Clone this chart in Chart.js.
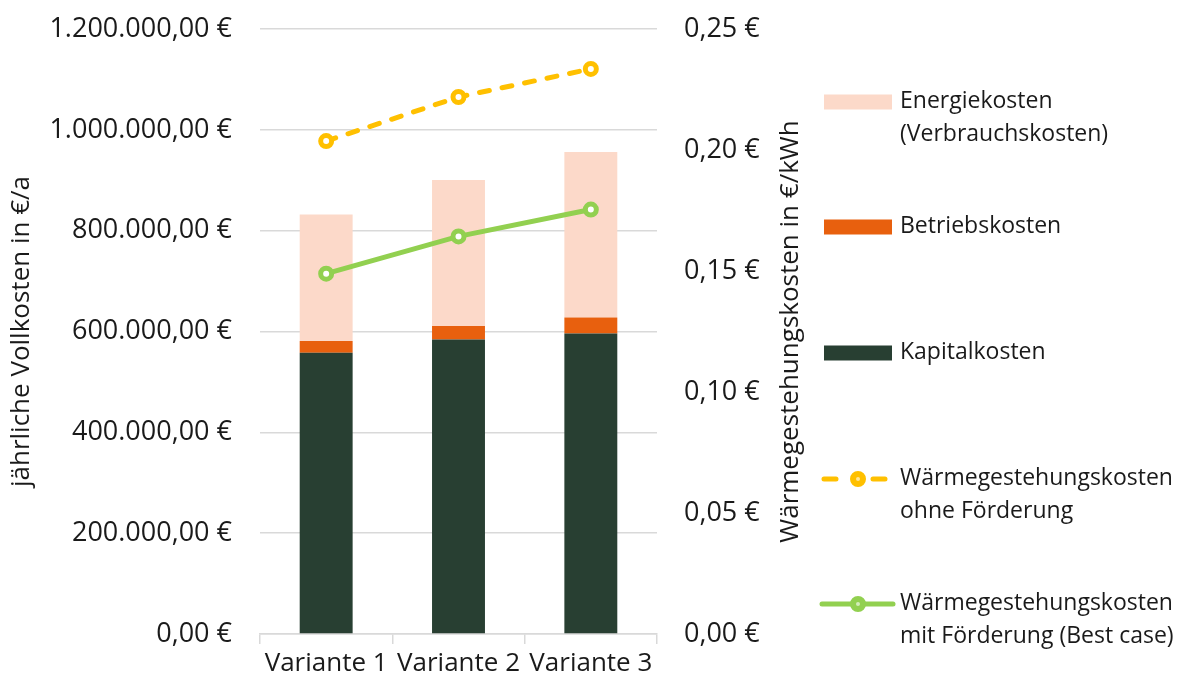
<!DOCTYPE html>
<html>
<head>
<meta charset="utf-8">
<script src="https://cdn.jsdelivr.net/npm/chart.js@4/dist/chart.umd.min.js"></script>
<style>
  html, body { margin: 0; padding: 0; background: #ffffff; }
  #wrap { position: relative; width: 1184px; height: 682px; }
</style>
</head>
<body>
<div id="wrap"><canvas id="c" width="1184" height="682"></canvas></div>
<script>
// ---- data ----
const categories = ['Variante 1', 'Variante 2', 'Variante 3'];
const kapitalkosten = [558000, 584000, 596000];
const betriebskosten = [23000, 27000, 31600];
const energiekosten = [251300, 289600, 328500];
const wgkOhneFoerderung = [0.2037, 0.2219, 0.2335];
const wgkMitFoerderung = [0.1489, 0.1643, 0.1754];
const leftTicksMax = 1200000;
const rightTicksMax = 0.25;
const leftTitle = 'jährliche Vollkosten in €/a';
const rightTitle = 'Wärmegestehungskosten in €/kWh';
const legendLabels = [
  ['Energiekosten', '(Verbrauchskosten)'],
  ['Betriebskosten'],
  ['Kapitalkosten'],
  ['Wärmegestehungskosten', 'ohne Förderung'],
  ['Wärmegestehungskosten', 'mit Förderung (Best case)']
];

// ---- style ----
const FONT = "'Open Sans', 'DejaVu Sans', sans-serif";
const TEXT = '#1a1a1a';
const GRID = '#d9d9d9';
const C_ENERGIE = '#FCD9C9';
const C_BETRIEB = '#E8600E';
const C_KAPITAL = '#283F32';
const C_OHNE = '#FFC000';
const C_MIT = '#92D050';
const TICK_SIZE = 27;

function deNumber(v, decimals) {
  const fixed = Math.abs(v).toFixed(decimals);
  let [intPart, dec] = fixed.split('.');
  intPart = intPart.replace(/\B(?=(\d{3})+(?!\d))/g, '.');
  return (v < 0 ? '-' : '') + intPart + (dec ? ',' + dec : '');
}

const titlesAndLegend = {
  id: 'titlesAndLegend',
  afterDraw(chart) {
    const ctx = chart.ctx;
    const area = chart.chartArea;
    const midY = (area.top + area.bottom) / 2;
    ctx.save();
    ctx.fillStyle = TEXT;
    ctx.font = '26px ' + FONT;
    ctx.textAlign = 'center';
    ctx.textBaseline = 'middle';
    // left title
    ctx.save();
    ctx.translate(22, midY);
    ctx.rotate(-Math.PI / 2);
    ctx.fillText(leftTitle, 0, 0);
    ctx.restore();
    // right title
    ctx.save();
    ctx.translate(791, midY);
    ctx.rotate(-Math.PI / 2);
    ctx.fillText(rightTitle, 0, 0);
    ctx.restore();

    // legend
    const ds = chart.data.datasets;
    const order = [2, 1, 0, 3, 4];
    const centers = [102, 227, 353, 479, 604];
    const sx = 824, sw = 68, sh = 15, tx = 900, lh = 33;
    ctx.font = '23px ' + FONT;
    ctx.textAlign = 'left';
    order.forEach((di, i) => {
      const d = ds[di];
      const cy = centers[i];
      if (d.type === 'line') {
        ctx.save();
        ctx.strokeStyle = d.borderColor;
        ctx.lineWidth = d.borderWidth;
        ctx.lineCap = 'round';
        ctx.beginPath();
        if (d.borderDash && d.borderDash.length) {
          ctx.moveTo(824, cy); ctx.lineTo(836, cy);
          ctx.moveTo(873, cy); ctx.lineTo(885, cy);
        } else {
          ctx.moveTo(822, cy); ctx.lineTo(893, cy);
        }
        ctx.stroke();
        ctx.beginPath();
        ctx.arc(858, cy, d.pointRadius, 0, Math.PI * 2);
        ctx.fillStyle = d.borderColor;
        ctx.lineWidth = d.pointBorderWidth;
        ctx.fill();
        ctx.stroke();
        ctx.beginPath();
        ctx.arc(858, cy, 2, 0, Math.PI * 2);
        ctx.fillStyle = '#fff';
        ctx.globalAlpha = 0.6;
        ctx.fill();
        ctx.restore();
      } else {
        ctx.fillStyle = d.backgroundColor;
        ctx.fillRect(sx, cy - sh / 2, sw, sh);
      }
      ctx.fillStyle = TEXT;
      legendLabels[i].forEach((line, k) => {
        ctx.fillText(line, tx, cy - 1 + k * lh);
      });
    });
    ctx.restore();
  }
};

new Chart(document.getElementById('c'), {
  data: {
    labels: categories,
    datasets: [
      { type: 'bar', label: 'Kapitalkosten', data: kapitalkosten, backgroundColor: C_KAPITAL, yAxisID: 'y', stack: 's', order: 2, barPercentage: 0.4, categoryPercentage: 1 },
      { type: 'bar', label: 'Betriebskosten', data: betriebskosten, backgroundColor: C_BETRIEB, yAxisID: 'y', stack: 's', order: 2, barPercentage: 0.4, categoryPercentage: 1 },
      { type: 'bar', label: 'Energiekosten (Verbrauchskosten)', data: energiekosten, backgroundColor: C_ENERGIE, yAxisID: 'y', stack: 's', order: 2, barPercentage: 0.4, categoryPercentage: 1 },
      { type: 'line', label: 'Wärmegestehungskosten ohne Förderung', data: wgkOhneFoerderung, yAxisID: 'y1', order: 0,
        borderColor: C_OHNE, borderWidth: 5, borderDash: [10, 13], borderCapStyle: 'round',
        pointRadius: 5.5, pointBorderWidth: 5, pointBackgroundColor: '#ffffff', pointBorderColor: C_OHNE, tension: 0, fill: false },
      { type: 'line', label: 'Wärmegestehungskosten mit Förderung (Best case)', data: wgkMitFoerderung, yAxisID: 'y1', order: 0,
        borderColor: C_MIT, borderWidth: 5, borderCapStyle: 'round',
        pointRadius: 5.5, pointBorderWidth: 5, pointBackgroundColor: '#ffffff', pointBorderColor: C_MIT, tension: 0, fill: false }
    ]
  },
  options: {
    responsive: false,
    devicePixelRatio: 1,
    animation: false,
    layout: { padding: { top: 29, bottom: 0, left: 0, right: 0 } },
    plugins: { legend: { display: false }, tooltip: { enabled: false } },
    scales: {
      x: {
        stacked: true,
        grid: { drawOnChartArea: false, drawTicks: true, tickLength: 10, color: GRID, lineWidth: 1.5 },
        border: { display: true, color: GRID, width: 1.5 },
        ticks: { color: TEXT, font: { family: FONT, size: 26 }, padding: 4, maxRotation: 0 },
        afterFit: s => { s.height = 48; s.paddingLeft = 0; s.paddingRight = 0; }
      },
      y: {
        position: 'left',
        stacked: true,
        min: 0, max: leftTicksMax,
        grid: { color: GRID, lineWidth: 1.5, drawTicks: false },
        border: { display: false },
        ticks: { stepSize: 200000, color: TEXT, font: { family: FONT, size: TICK_SIZE }, padding: 28,
          callback: v => deNumber(v, 2) + ' €' },
        afterFit: s => { s.width = 260; s.paddingTop = 0; s.paddingBottom = 0; }
      },
      y1: {
        position: 'right',
        min: 0, max: rightTicksMax,
        grid: { display: false, drawOnChartArea: false, drawTicks: false },
        border: { display: false },
        ticks: { stepSize: 0.05, color: TEXT, font: { family: FONT, size: TICK_SIZE }, padding: 27,
          callback: v => deNumber(v, 2) + ' €' },
        afterFit: s => { s.width = 527; s.paddingTop = 0; s.paddingBottom = 0; }
      }
    }
  },
  plugins: [titlesAndLegend]
});
</script>
</body>
</html>
